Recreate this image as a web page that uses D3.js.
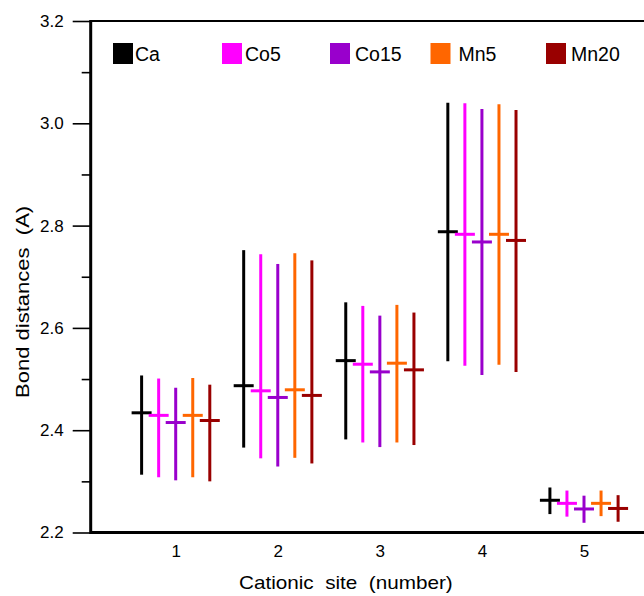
<!DOCTYPE html>
<html>
<head>
<meta charset="utf-8">
<script src="https://cdn.jsdelivr.net/npm/d3@7"></script>
<style>
  html, body { margin: 0; padding: 0; background: #fff; }
  svg { display: block; font-family: "Liberation Sans", Arial, sans-serif; }
</style>
</head>
<body>
<svg id="chart" width="644" height="596"></svg>
<script>
// Cationic sites on the x axis
const sites = [1, 2, 3, 4, 5];

// Samples, one error-bar series each
const seriesNames = ["Ca", "Co5", "Co15", "Mn5", "Mn20"];
const seriesColors = ["#000000", "#ff00ff", "#9900cc", "#ff6600", "#990000"];

// Mean bond distance per site (Å)
const meanCa   = [2.434, 2.487, 2.536, 2.788, 2.263];
const meanCo5  = [2.429, 2.477, 2.529, 2.783, 2.257];
const meanCo15 = [2.415, 2.464, 2.514, 2.768, 2.246];
const meanMn5  = [2.429, 2.479, 2.531, 2.783, 2.257];
const meanMn20 = [2.419, 2.468, 2.518, 2.771, 2.247];

// Longest bond per site (Å)
const maxCa   = [2.507, 2.752, 2.650, 3.040, 2.288];
const maxCo5  = [2.501, 2.744, 2.643, 3.039, 2.282];
const maxCo15 = [2.483, 2.725, 2.624, 3.028, 2.272];
const maxMn5  = [2.502, 2.746, 2.645, 3.037, 2.282];
const maxMn20 = [2.489, 2.732, 2.630, 3.026, 2.273];

// Shortest bond per site (Å)
const minCa   = [2.313, 2.366, 2.382, 2.535, 2.236];
const minCo5  = [2.308, 2.345, 2.376, 2.526, 2.231];
const minCo15 = [2.302, 2.329, 2.367, 2.508, 2.219];
const minMn5  = [2.308, 2.346, 2.376, 2.528, 2.232];
const minMn20 = [2.300, 2.335, 2.371, 2.514, 2.221];

// Axis ticks
const yMajorTicks = [2.2, 2.4, 2.6, 2.8, 3.0, 3.2];
const yMinorTicks = [2.3, 2.5, 2.7, 2.9, 3.1];
const yTickLabels = ["2.2", "2.4", "2.6", "2.8", "3.0", "3.2"];
const xTickLabels = ["1", "2", "3", "4", "5"];

const means = [meanCa, meanCo5, meanCo15, meanMn5, meanMn20];
const maxs  = [maxCa, maxCo5, maxCo15, maxMn5, maxMn20];
const mins  = [minCa, minCo5, minCo15, minMn5, minMn20];

const svg = d3.select("#chart");

const x = d3.scaleLinear().domain([1, 5]).range([175.7, 584]);
const y = d3.scaleLinear().domain([2.2, 3.2]).range([532.5, 21]);
const plotLeft = 90.7, plotRight = 644;
const groupStep = 0.167;   // spacing between samples inside one site, in x units
const capHalf = 10;

// Flatten into records
const records = [];
seriesNames.forEach((name, si) => {
  sites.forEach((s, k) => {
    records.push({
      series: si,
      x: s + (si - 2) * groupStep,
      mean: means[si][k],
      max: maxs[si][k],
      min: mins[si][k]
    });
  });
});

// Error-bar range lines
svg.append("g").selectAll("line")
  .data(records).join("line")
  .attr("x1", d => x(d.x)).attr("x2", d => x(d.x))
  .attr("y1", d => y(d.max)).attr("y2", d => y(d.min))
  .attr("stroke", d => seriesColors[d.series])
  .attr("stroke-width", 3);

// Mean markers
svg.append("g").selectAll("line")
  .data(records).join("line")
  .attr("x1", d => x(d.x) - capHalf).attr("x2", d => x(d.x) + capHalf)
  .attr("y1", d => y(d.mean)).attr("y2", d => y(d.mean))
  .attr("stroke", d => seriesColors[d.series])
  .attr("stroke-width", 3);

// Y axis with major and minor ticks
const yAxis = d3.axisLeft(y)
  .tickValues(yMajorTicks)
  .tickSize(18)
  .tickPadding(9)
  .tickFormat((d, i) => yTickLabels[i]);
const gy = svg.append("g").attr("transform", `translate(${plotLeft},0)`).call(yAxis);
gy.select(".domain").remove();
gy.selectAll(".tick line").attr("stroke", "#000").attr("stroke-width", 1.6);
gy.selectAll(".tick text")
  .attr("font-size", 17).attr("fill", "#000")
  .attr("font-family", "Liberation Sans, Arial, sans-serif");

const yMinor = d3.axisLeft(y).tickValues(yMinorTicks).tickSize(9).tickFormat("");
const gym = svg.append("g").attr("transform", `translate(${plotLeft},0)`).call(yMinor);
gym.select(".domain").remove();
gym.selectAll(".tick line").attr("stroke", "#000").attr("stroke-width", 1.6);

// X axis labels only (no tick marks)
const xAxis = d3.axisBottom(x)
  .tickValues(sites)
  .tickSize(0)
  .tickPadding(12)
  .tickFormat((d, i) => xTickLabels[i]);
const gx = svg.append("g").attr("transform", `translate(0,${y(2.2)})`).call(xAxis);
gx.select(".domain").remove();
gx.selectAll(".tick text")
  .attr("font-size", 17).attr("fill", "#000")
  .attr("font-family", "Liberation Sans, Arial, sans-serif");

// Frame: left axis, bottom axis, top border
svg.append("line")
  .attr("x1", plotLeft).attr("x2", plotLeft)
  .attr("y1", y(3.2) - 1).attr("y2", y(2.2) + 1.5)
  .attr("stroke", "#000").attr("stroke-width", 3);
svg.append("line")
  .attr("x1", plotLeft).attr("x2", plotRight)
  .attr("y1", y(2.2)).attr("y2", y(2.2))
  .attr("stroke", "#000").attr("stroke-width", 3);
svg.append("line")
  .attr("x1", plotLeft).attr("x2", plotRight)
  .attr("y1", y(3.2)).attr("y2", y(3.2))
  .attr("stroke", "#000").attr("stroke-width", 2.2);

// Axis titles (drawn slightly widened)
svg.append("text")
  .attr("transform", "translate(239,589) scale(1.15,1)")
  .attr("font-size", 18)
  .attr("style", "white-space: pre")
  .text("Cationic  site  (number)");

svg.append("text")
  .attr("transform", "translate(29,398) rotate(-90) scale(1.16,1)")
  .attr("font-size", 19)
  .attr("style", "white-space: pre")
  .text("Bond distances  (A)");

// Legend
const legendX = [113, 222, 330, 430.5, 546];
const legendTextDx = [22, 23, 25, 28, 25];
const legend = svg.append("g");
seriesNames.forEach((name, i) => {
  legend.append("rect")
    .attr("x", legendX[i]).attr("y", 43)
    .attr("width", 20).attr("height", 21)
    .attr("fill", seriesColors[i]);
  legend.append("text")
    .attr("x", legendX[i] + legendTextDx[i]).attr("y", 61)
    .attr("font-size", 19.5)
    .attr("fill", "#000")
    .text(name);
});
</script>
</body>
</html>
